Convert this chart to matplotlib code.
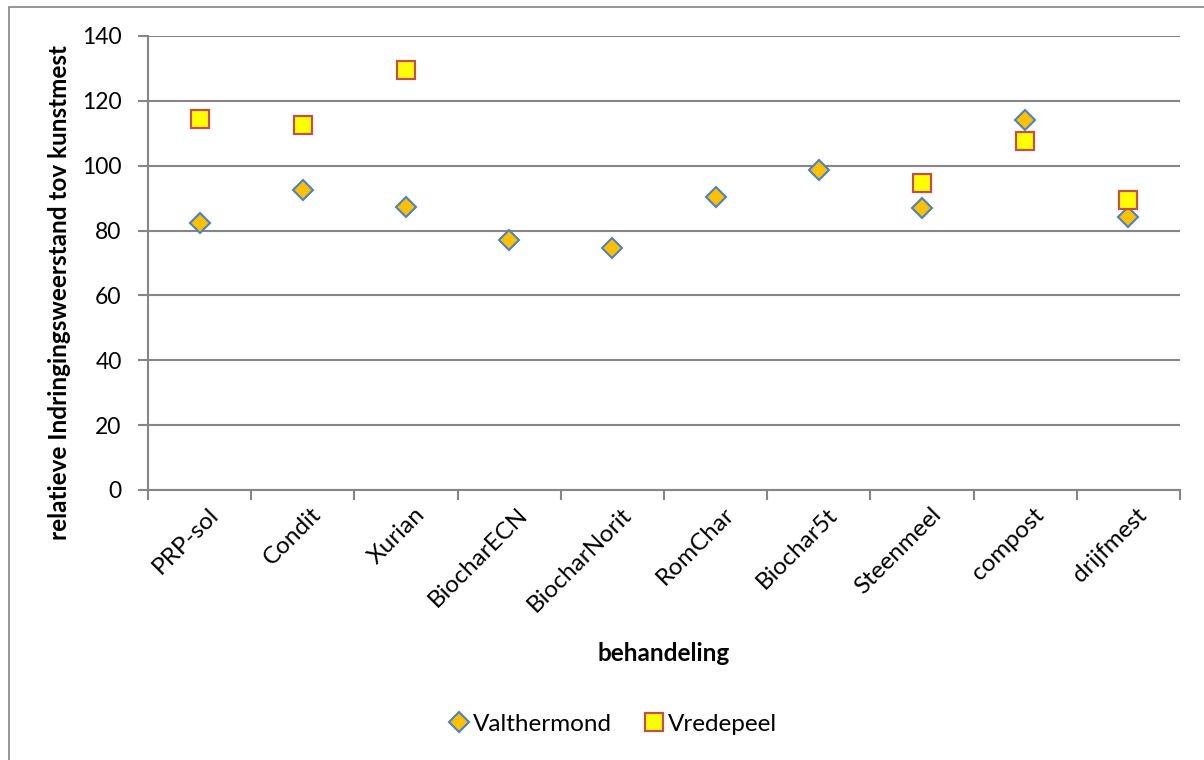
import matplotlib.pyplot as plt
from matplotlib.patches import Rectangle
from matplotlib.transforms import ScaledTranslation

plt.rcParams['font.family'] = ['Lato', 'DejaVu Sans']

# Data
categories = ['PRP-sol', 'Condit', 'Xurian', 'BiocharECN', 'BiocharNorit',
              'RomChar', 'Biochar5t', 'Steenmeel', 'compost', 'drijfmest']
valthermond = [82.3, 92.5, 87.3, 77.1, 74.6, 90.4, 98.7, 86.9, 114.1, 84.3]
vredepeel_cats = ['PRP-sol', 'Condit', 'Xurian', 'Steenmeel', 'compost', 'drijfmest']
vredepeel = [114.5, 112.7, 129.5, 94.8, 107.6, 89.4]
yticks = [0, 20, 40, 60, 80, 100, 120, 140]

grey = '#868686'

fig = plt.figure(figsize=(12.04, 7.6), dpi=100)
ax = fig.add_axes([148 / 1204, 1 - 490 / 760, 1032 / 1204, 454 / 760])

x = list(range(len(categories)))
x_vr = [categories.index(c) for c in vredepeel_cats]

ax.plot(x, valthermond, linestyle='none', marker='D', markersize=10,
        markerfacecolor='#FFC000', markeredgecolor='#4F81BD', markeredgewidth=1.5,
        label='Valthermond', zorder=3)
ax.plot(x_vr, vredepeel, linestyle='none', marker='s', markersize=13,
        markerfacecolor='#FFFF00', markeredgecolor='#C0504D', markeredgewidth=1.6,
        label='Vredepeel', zorder=3)

ax.set_xlim(-0.5, len(categories) - 0.5)
ax.set_ylim(0, 140)
ax.set_yticks(yticks)
ax.yaxis.grid(True, color=grey, linewidth=1.5)
ax.set_axisbelow(True)

for s in ['top', 'right']:
    ax.spines[s].set_visible(False)
for s in ['left', 'bottom']:
    ax.spines[s].set_color(grey)
    ax.spines[s].set_linewidth(1.5)

# category boundary ticks on x, labels in the middle
ax.set_xticks([i - 0.5 for i in range(len(categories) + 1)])
ax.set_xticklabels([])
ax.set_xticks(x, minor=True)
ax.set_xticklabels(categories, minor=True, rotation=45, ha='right',
                   rotation_mode='anchor', fontsize=17.5)
ax.tick_params(axis='x', which='major', length=7, color=grey, width=1.5)
ax.tick_params(axis='x', which='minor', length=0, pad=10)
ax.tick_params(axis='y', length=7, color=grey, width=1.5, labelsize=16.5, pad=12)
shift = ScaledTranslation(0.08, 0, fig.dpi_scale_trans)
for lab in ax.get_xticklabels(minor=True):
    lab.set_transform(lab.get_transform() + shift)

ax.set_xlabel('behandeling', fontsize=17.5, fontweight='bold')
ax.xaxis.set_label_coords(0.5, -0.335)
ax.set_ylabel('relatieve Indringingsweerstand tov kunstmest', fontsize=17.5,
              fontweight='bold')
ax.yaxis.set_label_coords(-0.075, 0.434)

fig.legend(loc='center', bbox_to_anchor=(612 / 1204, 1 - 724 / 760), ncol=2,
           frameon=False, fontsize=17.5, handletextpad=0.1, columnspacing=1.2,
           handlelength=1.0)

fig.patches.append(Rectangle((9 / 1204, -0.05), 1.1, 1 - 7 / 760 + 0.05,
                             transform=fig.transFigure, fill=False,
                             edgecolor=grey, linewidth=1.2))

fig.savefig('out.png', dpi=100)
